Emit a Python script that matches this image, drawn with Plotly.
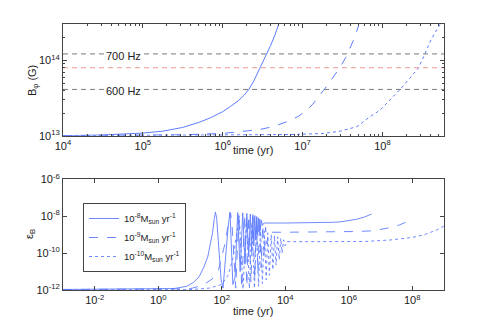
"""
B_phi growth and epsilon_B evolution for three accretion rates.
"""

import numpy as np
import plotly.graph_objects as go

# ---- top panel: log10(time / yr) and log10(B_phi / G)
b_t_8 = [4.0, 4.5, 5.0, 5.25, 5.5, 5.71, 5.85, 6.0, 6.1, 6.2, 6.27, 6.33, 6.39, 6.45,
         6.5, 6.55, 6.6, 6.65, 6.70]
b_v_8 = [13.0, 13.01, 13.035, 13.06, 13.11, 13.18, 13.24, 13.32, 13.39, 13.47, 13.54,
         13.62, 13.73, 13.86, 13.97, 14.08, 14.2, 14.33, 14.48]
b_t_9 = [4.0, 5.0, 5.5, 6.0, 6.21, 6.45, 6.63, 6.75, 6.84, 6.95, 7.05, 7.12, 7.19, 7.26,
         7.33, 7.40, 7.47, 7.54, 7.60, 7.65, 7.70]
b_v_9 = [13.0, 13.005, 13.012, 13.03, 13.05, 13.08, 13.12, 13.16, 13.2, 13.26, 13.34,
         13.41, 13.5, 13.6, 13.7, 13.8, 13.91, 14.04, 14.17, 14.3, 14.46]
b_t_10 = [4.0, 6.0, 6.84, 7.26, 7.47, 7.68, 7.84, 7.97, 8.09, 8.22, 8.34, 8.45, 8.52,
          8.61, 8.67, 8.72]
b_v_10 = [13.0, 13.005, 13.015, 13.03, 13.06, 13.12, 13.25, 13.34, 13.47, 13.615, 13.76,
          13.9, 14.06, 14.28, 14.39, 14.48]

# reference field strengths (G)
b_700hz = 1.22e14
b_red = 8.0e13
b_600hz = 4.12e13

# ---- bottom panel: log10(time / yr) and log10(eps_B)
e_t_8 = [-3.0, 0.0, 0.5, 0.9, 1.1, 1.29, 1.45, 1.56, 1.65, 1.71, 1.76, 1.80, 1.84, 1.90,
         1.98, 2.04, 2.12, 2.20, 2.26, 2.35, 2.42, 2.50, 2.58, 2.66, 2.73, 2.79, 2.85,
         2.90, 2.94, 2.98, 3.01, 3.04, 3.07, 3.10, 3.12, 3.15, 3.17, 3.20, 3.22, 3.25,
         3.28, 3.33, 4.0, 5.0, 5.5, 5.72, 6.0, 6.24, 6.5, 6.72]
e_v_8 = [-11.97, -11.96, -11.92, -11.8, -11.6, -11.28, -10.7, -10.2, -9.5, -8.9, -8.2, -7.77,
         -8.1, -9.4, -11.46, -11.9, -10.2, -8.6, -7.78, -11.7, -11.3, -7.80, -11.0, -7.82,
         -10.6, -7.85, -10.2, -7.88, -9.9, -7.92, -9.6, -7.97, -9.3, -8.02, -9.05, -8.08,
         -8.85, -8.15, -8.65, -8.22, -8.5, -8.37, -8.37, -8.36, -8.33, -8.31, -8.25, -8.17,
         -8.04, -7.88]
e_t_9 = [-3.0, 0.5, 1.0, 1.4, 1.7, 1.9, 2.0, 2.1, 2.2, 2.28, 2.33, 2.40, 2.44, 2.50,
         2.54, 2.63, 2.72, 2.79, 2.85, 2.92, 2.98, 3.04, 3.09, 3.14, 3.19, 3.24, 3.29,
         3.34, 3.38, 3.42, 3.47, 4.0, 5.0, 5.5, 6.24, 6.77, 7.3, 7.6, 7.79]
e_v_9 = [-11.98, -11.97, -11.93, -11.75, -11.4, -10.9, -10.27, -9.5, -8.5, -7.85, -8.6,
         -11.0, -11.9, -9.5, -7.85, -11.9, -7.9, -11.8, -7.95, -11.6, -8.05, -11.4, -8.15,
         -11.1, -8.3, -10.8, -8.45, -10.2, -8.6, -9.5, -8.87, -8.87, -8.86, -8.85, -8.83,
         -8.79, -8.62, -8.47, -8.33]
e_t_10 = [-3.0, 1.0, 1.6, 2.0, 2.2, 2.35, 2.45, 2.55, 2.67, 2.78, 2.87, 2.95, 3.03, 3.10,
          3.16, 3.22, 3.28, 3.34, 3.40, 3.45, 3.50, 3.56, 3.61, 3.66, 3.71, 3.76, 3.81,
          3.86, 3.90, 3.95, 4.00, 4.05, 5.0, 6.0, 6.5, 7.3, 8.0, 8.35, 8.77, 9.0]
e_v_10 = [-11.99, -11.98, -11.9, -11.7, -11.2, -10.3, -9.2, -8.0, -11.95, -8.15, -11.92,
          -8.35, -11.9, -8.5, -11.8, -8.65, -11.65, -8.8, -11.45, -8.9, -11.2, -9.0, -10.9,
          -9.05, -10.65, -9.12, -10.35, -9.2, -10.0, -9.28, -9.6, -9.38, -9.38, -9.38,
          -9.37, -9.29, -9.15, -9.02, -8.75, -8.53]

legend_names = ['10<sup>-8</sup>M<sub>sun</sub> yr<sup>-1</sup>',
                '10<sup>-9</sup>M<sub>sun</sub> yr<sup>-1</sup>',
                '10<sup>-10</sup>M<sub>sun</sub> yr<sup>-1</sup>']

BLUE = 'rgb(95,125,255)'
FRAME = '#444444'
W, H = 491, 327


def px(v):
    return 10 ** np.array(v, dtype=float)


def sup(k):
    return '10<sup>%d</sup>' % k


fig = go.Figure()

# top panel
for t, v, dash in [(b_t_8, b_v_8, 'solid'), (b_t_9, b_v_9, 'dash'), (b_t_10, b_v_10, 'dot')]:
    fig.add_trace(go.Scatter(x=px(t), y=px(v), mode='lines', showlegend=False,
                             line=dict(color=BLUE, width=1, dash=dash),
                             xaxis='x', yaxis='y'))
for val, col in [(b_700hz, 'rgb(120,120,120)'), (b_red, 'rgb(245,150,150)'),
                 (b_600hz, 'rgb(120,120,120)')]:
    fig.add_trace(go.Scatter(x=[1e4, 6e8], y=[val, val], mode='lines', showlegend=False,
                             line=dict(color=col, width=1, dash='5px,4px'),
                             xaxis='x', yaxis='y'))

# bottom panel
for t, v, dash, name in [(e_t_8, e_v_8, 'solid', legend_names[0]),
                         (e_t_9, e_v_9, 'dash', legend_names[1]),
                         (e_t_10, e_v_10, 'dot', legend_names[2])]:
    fig.add_trace(go.Scatter(x=px(t), y=px(v), mode='lines', name=name,
                             line=dict(color=BLUE, width=0.9, dash=dash),
                             xaxis='x2', yaxis='y2'))

axis_common = dict(showgrid=False, zeroline=False, showline=True, mirror='allticks',
                   linecolor=FRAME, linewidth=1, ticks='inside', ticklen=4,
                   tickcolor=FRAME, automargin=False,
                   tickfont=dict(size=11, color='#222222'))

x_minor = [m * 10 ** k for k in range(4, 9) for m in range(2, 10) if m * 10 ** k <= 6e8]
y_minor = [m * 10 ** k for k in (13, 14) for m in range(2, 10) if m * 10 ** k <= 3e14]

fig.update_layout(
    template='none',
    width=W, height=H,
    margin=dict(l=0, r=0, t=0, b=0, pad=0),
    paper_bgcolor='white', plot_bgcolor='white',
    font=dict(family='Liberation Sans, Arial, sans-serif', color='#222222'),
    xaxis=dict(type='log', range=[4, 8.77], domain=[63 / W, 444 / W], anchor='y',
               tickvals=[10 ** k for k in range(4, 9)],
               ticktext=[sup(k) for k in range(4, 9)],
               minor=dict(tickvals=x_minor, ticks='inside', ticklen=2, tickcolor=FRAME),
               **axis_common),
    yaxis=dict(type='log', range=[13, 14.48], domain=[1 - 135.7 / H, 1 - 24.3 / H],
               anchor='x', tickvals=[1e13, 1e14], ticktext=[sup(13), sup(14)],
               minor=dict(tickvals=y_minor, ticks='inside', ticklen=2, tickcolor=FRAME),
               **axis_common),
    xaxis2=dict(type='log', range=[-3, 9], domain=[63 / W, 444 / W], anchor='y2',
                tickvals=[10 ** k for k in range(-2, 9, 2)],
                ticktext=[sup(k) for k in range(-2, 9, 2)],
                **axis_common),
    yaxis2=dict(type='log', range=[-12, -6], domain=[1 - 290 / H, 1 - 179.3 / H],
                anchor='x2', tickvals=[10 ** k for k in range(-12, -5, 2)],
                ticktext=[sup(k) for k in range(-12, -5, 2)],
                **axis_common),
    legend=dict(x=83 / W, y=1 - 203 / H, xanchor='left', yanchor='top',
                bgcolor='white', bordercolor=FRAME, borderwidth=1, itemwidth=30,
                font=dict(size=9.5, color='#222222'), tracegroupgap=0),
    showlegend=True,
)

# labels on the reference lines
for txt, val in [('700 Hz', b_700hz), ('600 Hz', b_600hz)]:
    fig.add_annotation(x=4.76, y=np.log10(val), xref='x', yref='y', text=txt,
                       showarrow=False, bgcolor='white', yshift=-2,
                       font=dict(size=11, color='#222222'))

# axis titles
titles = [
    ('time (yr)', 253, 150, 0),
    ('B<sub>\u03c6</sub> (G)', 33, 81, -90),
    ('time (yr)', 253, 311, 0),
    ('\u03b5<sub>B</sub>', 30, 234, -90),
]
for txt, x, y, ang in titles:
    fig.add_annotation(x=x / W, y=1 - y / H, xref='paper', yref='paper', text=txt,
                       showarrow=False, textangle=ang, xanchor='center', yanchor='middle',
                       font=dict(size=11, color='#222222'))

# page body has a default 8px margin; drop it so the figure sits at (0, 0)
fig.write_html('out.html',
               config={'displayModeBar': False},
               post_script="document.body.style.margin='0';")
